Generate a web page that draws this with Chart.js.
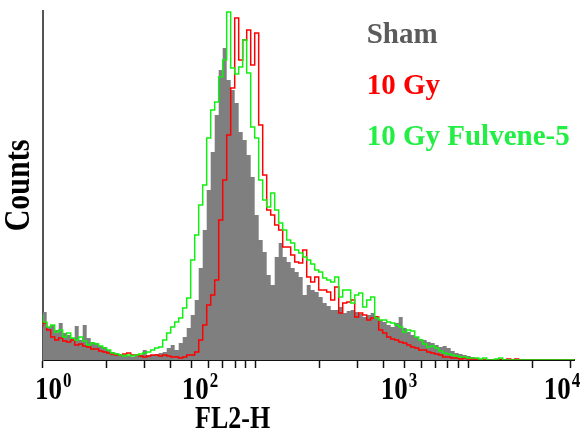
<!DOCTYPE html>
<html>
<head>
<meta charset="utf-8">
<script src="https://cdn.jsdelivr.net/npm/chart.js@4.4.1/dist/chart.umd.min.js"></script>
<style>
  body { margin: 0; background: #fff; }
  #wrap { width: 584px; height: 437px; }
</style>
</head>
<body>
<div id="wrap"><canvas id="histChart"></canvas></div>
<script>
// histogram counts per channel bin (FL2-H, log scale)
const sham = [42,48,33,35,30,37,27,25,22,34,
  20,35,22,18,17,14,13,10,8,7,
  5,5,4,3,4,5,10,5,5,6,
  7,8,12,15,10,17,23,32,45,60,
  92,130,170,208,245,290,312,280,270,257,
  228,220,205,183,145,120,108,85,75,103,
  117,103,98,92,88,83,65,75,70,68,
  63,57,54,50,50,53,47,49,50,48,
  46,43,45,47,44,40,38,35,33,37,
  43,32,28,25,23,21,20,18,17,15,
  13,14,12,9,7,6,5,4,3,2,
  1,1,0,0,0,0,0,0,0,0,
  0,0,0,0,0,0,0,0,0,0,
  0,0,0];

const gy10 = [33,37,30,23,20,22,19,18,20,15,
  16,14,13,11,11,9,8,7,6,5,
  5,6,7,5,5,4,3,4,5,5,
  4,5,4,3,3,2,3,5,5,8,
  20,35,55,65,80,140,180,225,272,342,
  300,320,330,295,327,235,185,150,145,135,
  130,113,113,105,98,97,110,83,78,83,
  70,70,68,60,73,47,57,58,60,43,
  47,45,40,42,43,30,27,23,21,20,
  18,17,15,13,12,10,10,8,7,6,
  5,3,3,2,2,1,2,1,1,0,
  0,0,0,0,0,0,0,1,0,1,
  0,0,0,0,0,0,0,0,0,0,
  0,0,0];

const gy10Fulvene = [45,38,33,35,28,30,23,27,22,20,
  23,19,15,17,16,14,12,10,7,6,
  5,4,5,4,5,6,7,8,10,12,
  13,20,27,33,38,42,52,62,100,125,
  155,175,222,250,258,283,300,348,292,286,
  293,320,287,233,222,180,160,153,167,150,
  137,130,120,117,110,107,103,100,96,90,
  88,82,80,78,83,63,70,70,57,65,
  67,53,60,63,42,40,40,38,37,35,
  33,28,30,29,23,20,16,13,14,12,
  9,7,6,5,4,3,3,2,2,2,
  1,2,0,0,1,2,0,0,0,0,
  0,0,0,0,0,0,0,0,0,0,
  0,0,0];

const seriesNames = ['Sham', '10 Gy', '10 Gy Fulvene-5'];
const legendColors = ['#5b5b5b', '#ff0000', '#22ee44'];

// minor/major tick marks on the log axis
const tickValues = [1,2,3,4,5,6,7,8,9,10,20,30,40,50,60,70,80,90,100,200,300];
// where the decade labels sit on that axis, and their exponents
const labelValues = [1.065, 5.2, 44.8, 261];
const labelExps = ['0', '2', '3', '4'];
const xTitleAt = 7.8;

const toSteps = arr => arr.map((v, i) => ({ x: i, y: v })).concat([{ x: arr.length, y: arr[arr.length - 1] }]);

const textPlugin = {
  id: 'flowText',
  afterDraw(chart) {
    const { ctx, chartArea } = chart;
    const xs = chart.scales.xlog;
    ctx.save();
    ctx.fillStyle = '#000';

    labelValues.forEach((v, i) => {
      const px = xs.getPixelForValue(v);
      ctx.save();
      ctx.translate(px, xs.top + 39);
      ctx.scale(1, 1.2);
      ctx.textBaseline = 'alphabetic';
      ctx.font = 'bold 27px "Liberation Serif"';
      ctx.textAlign = 'center';
      ctx.fillText('10', 0, 0);
      ctx.font = 'bold 17px "Liberation Serif"';
      ctx.textAlign = 'left';
      ctx.fillText(labelExps[i], 14.5, -10);
      ctx.restore();
    });

    // x title
    ctx.save();
    ctx.translate(xs.getPixelForValue(xTitleAt), xs.top + 68);
    ctx.scale(1, 1.25);
    ctx.font = 'bold 26px "Liberation Serif"';
    ctx.textAlign = 'center';
    ctx.textBaseline = 'alphabetic';
    ctx.fillText('FL2-H', 0, 0);
    ctx.restore();

    // y title
    ctx.save();
    ctx.translate(20, (chartArea.top + chartArea.bottom) / 2);
    ctx.rotate(-Math.PI / 2);
    ctx.scale(1, 1.18);
    ctx.font = 'bold 30px "Liberation Serif"';
    ctx.textAlign = 'center';
    ctx.textBaseline = 'middle';
    ctx.fillText('Counts', 0, 0);
    ctx.restore();

    // legend text
    ctx.font = 'bold 29px "Liberation Serif"';
    ctx.textAlign = 'left';
    ctx.textBaseline = 'alphabetic';
    seriesNames.forEach((name, i) => {
      ctx.fillStyle = legendColors[i];
      ctx.fillText(name, chartArea.right - 208, chartArea.top + 32 + i * 51);
    });
    ctx.restore();
  }
};

new Chart(document.getElementById('histChart'), {
  type: 'line',
  data: {
    datasets: [
      {
        label: seriesNames[0],
        data: toSteps(sham),
        xAxisID: 'xch',
        stepped: 'after',
        fill: 'origin',
        backgroundColor: '#7f7f7f',
        borderColor: '#7f7f7f',
        borderWidth: 0,
        pointRadius: 0,
        order: 3
      },
      {
        label: seriesNames[1],
        data: toSteps(gy10),
        xAxisID: 'xch',
        stepped: 'after',
        fill: false,
        borderColor: '#ff0000',
        borderWidth: 1.5,
        pointRadius: 0,
        order: 2
      },
      {
        label: seriesNames[2],
        data: toSteps(gy10Fulvene),
        xAxisID: 'xch',
        stepped: 'after',
        fill: false,
        borderColor: '#10f010',
        borderWidth: 1.5,
        pointRadius: 0,
        order: 1
      }
    ]
  },
  options: {
    responsive: true,
    maintainAspectRatio: false,
    animation: false,
    layout: { padding: { top: 11, right: 9.3, left: 0, bottom: 0 } },
    plugins: {
      legend: { display: false },
      tooltip: { enabled: false }
    },
    scales: {
      xch: {
        type: 'linear',
        position: 'bottom',
        min: 0,
        max: sham.length,
        display: false
      },
      xlog: {
        type: 'logarithmic',
        position: 'bottom',
        min: 1,
        max: 315,
        bounds: 'data',
        afterBuildTicks: s => { s.ticks = tickValues.map(v => ({ value: v })); },
        afterFit: s => { s.height = 77; },
        ticks: { display: false, autoSkip: false },
        grid: { display: true, drawOnChartArea: false, drawTicks: true, tickLength: 8, tickWidth: 1.5, tickColor: '#111' },
        border: { display: true, color: '#111', width: 2 }
      },
      y: {
        type: 'linear',
        min: 0,
        max: 349,
        afterFit: s => { s.width = 42.7; },
        ticks: { display: false },
        grid: { display: false, drawTicks: false },
        border: { display: true, color: '#555', width: 2 }
      }
    }
  },
  plugins: [textPlugin]
});
</script>
</body>
</html>
